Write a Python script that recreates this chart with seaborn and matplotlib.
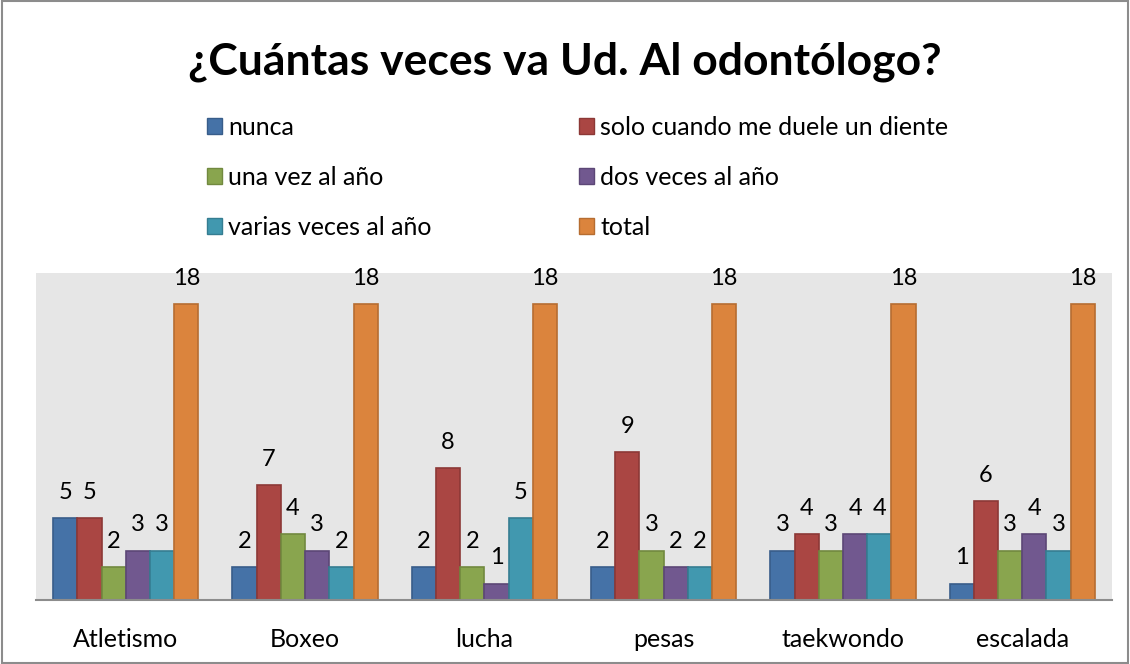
import pandas as pd
import matplotlib.pyplot as plt
import seaborn as sns
from matplotlib.patches import Patch

# Data
deportes = ['Atletismo', 'Boxeo', 'lucha', 'pesas', 'taekwondo', 'escalada']
respuestas = ['nunca', 'solo cuando me duele un diente', 'una vez al año',
              'dos veces al año', 'varias veces al año', 'total']
nunca = [5, 2, 2, 2, 3, 1]
solo_duele = [5, 7, 8, 9, 4, 6]
una_vez = [2, 4, 2, 3, 3, 3]
dos_veces = [3, 3, 1, 2, 4, 4]
varias_veces = [3, 2, 5, 2, 4, 3]
total = [18, 18, 18, 18, 18, 18]

colores = ['#4572A7', '#AA4643', '#89A54E', '#71588F', '#4198AF', '#DB843D']
bordes = ['#385D8A', '#8C3836', '#71893F', '#5C4776', '#357D91', '#B66D31']

series = [nunca, solo_duele, una_vez, dos_veces, varias_veces, total]
rows = []
for resp, vals in zip(respuestas, series):
    for dep, v in zip(deportes, vals):
        rows.append({'deporte': dep, 'respuesta': resp, 'valor': v})
df = pd.DataFrame(rows)

sns.set_style('white')
plt.rcParams['font.family'] = ['Lato', 'DejaVu Sans']
plt.rcParams['text.color'] = 'black'
plt.rcParams['xtick.color'] = 'black'

fig = plt.figure(figsize=(11.3, 6.64), dpi=100)
ax = fig.add_axes([0.032, 0.0964, 0.952, 0.4926])

sns.barplot(data=df, x='deporte', y='valor', hue='respuesta', order=deportes,
            hue_order=respuestas, palette=colores, width=0.81, ax=ax,
            legend=False, saturation=1)

for cont, edge in zip(ax.containers, bordes):
    for bar in cont:
        bar.set_edgecolor(edge)
        bar.set_linewidth(1.2)
    ax.bar_label(cont, padding=11, fontsize=17, color='black')

ax.set_facecolor('#E6E6E6')
ax.set_ylim(0, 19.9)
ax.set_xlim(-0.5, 5.5)
ax.set_yticks([])
ax.set_xlabel('')
ax.set_ylabel('')
ax.tick_params(axis='x', length=0, labelsize=18, pad=20, labelcolor='black')
for s in ['top', 'right', 'left']:
    ax.spines[s].set_visible(False)
ax.spines['bottom'].set_color('#8C8C8C')
ax.spines['bottom'].set_linewidth(1.5)

fig.suptitle('¿Cuántas veces va Ud. Al odontólogo?', fontsize=32,
             fontweight='bold', y=0.937, color='black')

# legend: row-major order in two columns
handles = [Patch(facecolor=c, edgecolor=e, label=l)
           for c, e, l in zip(colores, bordes, respuestas)]
order = [0, 2, 4, 1, 3, 5]
fig.legend([handles[i] for i in order], [respuestas[i] for i in order],
           ncol=2, loc='upper left', bbox_to_anchor=(0.174, 0.840),
           frameon=False, fontsize=18, handlelength=0.6, handleheight=0.6,
           handletextpad=0.25, labelspacing=1.07, columnspacing=5.9,
           borderaxespad=0, labelcolor='black')

# outer border of chart
fig.patches.append(plt.Rectangle((0.002, 0.002), 0.996, 0.996,
                                 transform=fig.transFigure, fill=False,
                                 edgecolor='#8C8C8C', linewidth=1.5))

fig.savefig('out.png', dpi=100)
